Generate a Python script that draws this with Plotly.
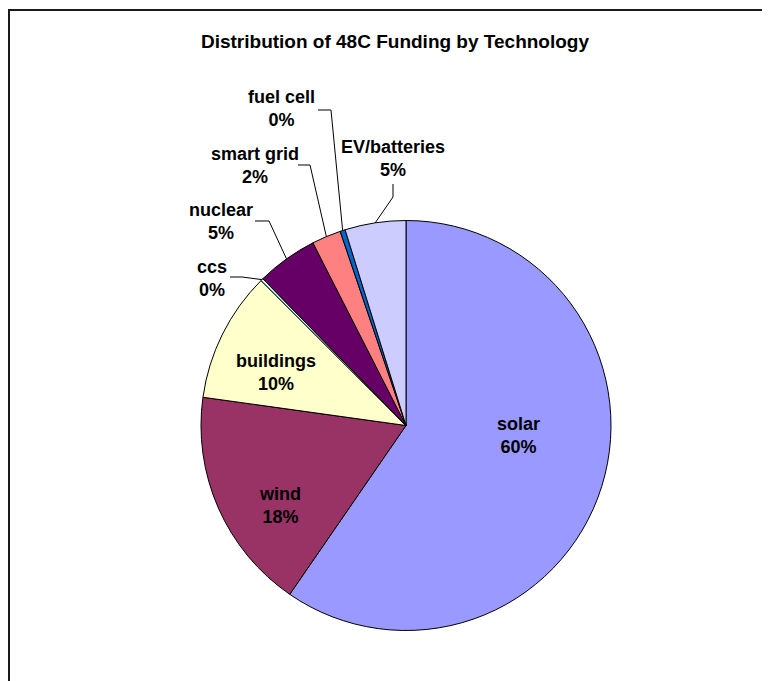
import math
import plotly.graph_objects as go

# Funding share by technology (%), clockwise from 12 o'clock
technologies = ["solar", "wind", "buildings", "ccs", "nuclear", "smart grid", "fuel cell", "EV/batteries"]
shares = [59.6, 17.6, 10.3, 0.2, 4.8, 2.3, 0.4, 4.8]
colors = ["#9999FF", "#993366", "#FFFFCC", "#CCFFFF", "#660066", "#FF8080", "#0066CC", "#CCCCFF"]

# the page body has an 8px margin, so the figure is drawn 8px in from the window corner
OFF = 8
W, H = 770 - OFF, 681 - OFF
CX, CY, R = 406, 425.5, 205          # pie centre and radius in window pixels
FONT = "Liberation Sans, Arial, sans-serif"

# label block centres (window pixels)
label_pos = {
    "solar": (519, 435),
    "wind": (280, 505),
    "buildings": (276, 372),
    "ccs": (212, 278),
    "nuclear": (221, 221),
    "smart grid": (255, 165),
    "fuel cell": (281, 108),
    "EV/batteries": (393, 158),
}

# leader lines: start and elbow (window pixels); the end is on the slice edge
leaders = {
    "ccs": [(230, 277), (242, 277)],
    "nuclear": [(255, 221), (269, 221)],
    "smart grid": [(298, 165), (310, 165)],
    "fuel cell": [(318, 110), (331, 110)],
    "EV/batteries": [(393, 184), (393, 197)],
}


def to_paper(x, y):
    return (x - OFF) / W, 1 - (y - OFF) / H


fig = go.Figure()

x0, y1 = to_paper(CX - R, CY - R)
x1, y0 = to_paper(CX + R, CY + R)
fig.add_trace(go.Pie(
    labels=technologies,
    values=shares,
    sort=False,
    direction="clockwise",
    rotation=0,
    marker=dict(colors=colors, line=dict(color="black", width=1)),
    textinfo="none",
    hoverinfo="skip",
    showlegend=False,
    domain=dict(x=[x0, x1], y=[y0, y1]),
))

total = sum(shares)
annotations = []
shapes = []
cum = 0
for name, v in zip(technologies, shares):
    mid = 2 * math.pi * (cum + v / 2) / total
    cum += v
    lx, ly = to_paper(*label_pos[name])
    annotations.append(dict(
        x=lx, y=ly, xref="paper", yref="paper",
        text=f"{name}<br>{round(100 * v / total):.0f}%",
        showarrow=False, xanchor="center", yanchor="middle",
        font=dict(family=FONT, size=18, color="black", weight="bold"),
    ))
    if name in leaders:
        tip = (CX + R * math.sin(mid), CY - R * math.cos(mid))
        pts = [to_paper(*p) for p in leaders[name] + [tip]]
        path = "M " + " L ".join(f"{x:.5f},{y:.5f}" for x, y in pts)
        shapes.append(dict(type="path", path=path, xref="paper", yref="paper",
                           line=dict(color="black", width=1)))

# chart frame (runs off the right and bottom edges)
fx0, fy1 = to_paper(9, 10)
shapes.append(dict(type="rect", xref="paper", yref="paper",
                   x0=fx0, x1=1.05, y0=-0.05, y1=fy1,
                   line=dict(color="#1a1a1a", width=2)))

tx, ty = to_paper(395, 41)
fig.update_layout(
    title=dict(
        text="Distribution of 48C Funding by Technology",
        x=tx, y=ty, xanchor="center", yanchor="middle",
        font=dict(family=FONT, size=19, color="black", weight="bold"),
    ),
    annotations=annotations,
    shapes=shapes,
    width=W,
    height=H,
    margin=dict(l=0, r=0, t=0, b=0),
    paper_bgcolor="white",
    plot_bgcolor="white",
)

fig.write_html("out.html")
